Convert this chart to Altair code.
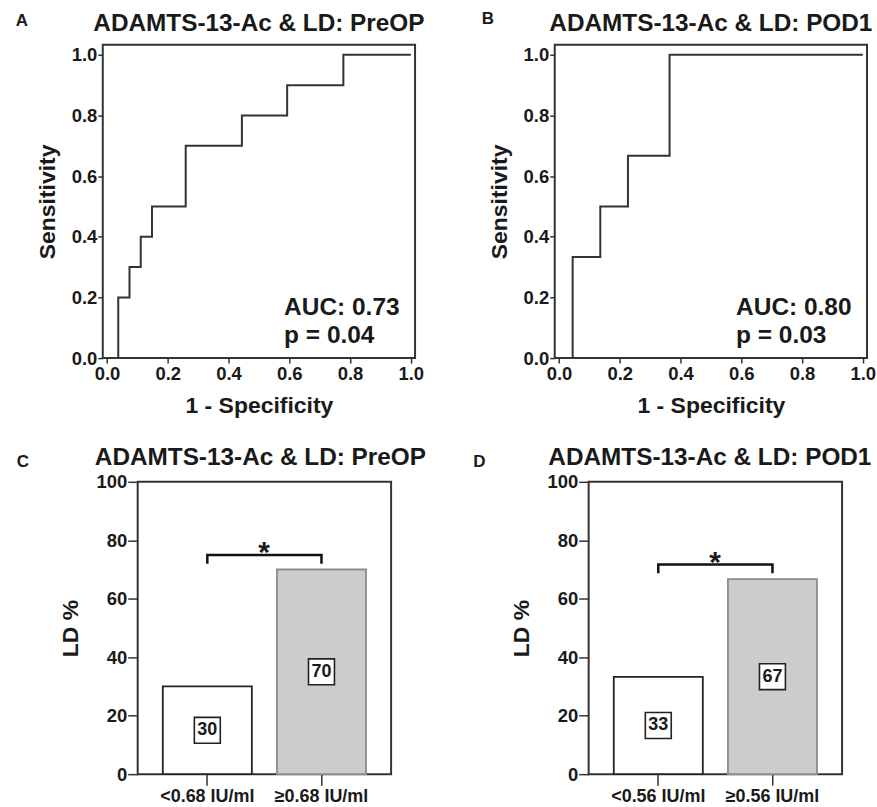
import altair as alt
import pandas as pd

# ---------------- data ----------------
roc_pre_fpr = [0.0, 0.037, 0.074, 0.111, 0.148, 0.259, 0.444, 0.593, 0.778, 1.0]
roc_pre_tpr = [0.0, 0.2, 0.3, 0.4, 0.5, 0.7, 0.8, 0.9, 1.0, 1.0]
roc_pod1_fpr = [0.0, 0.045, 0.136, 0.227, 0.364, 1.0]
roc_pod1_tpr = [0.0, 0.333, 0.5, 0.667, 1.0, 1.0]
auc_values = [0.73, 0.80]
p_values = [0.04, 0.03]

groups_pre = ["<0.68 IU/ml", "\u22650.68 IU/ml"]
ld_pre = [30.0, 70.0]
groups_pod1 = ["<0.56 IU/ml", "\u22650.56 IU/ml"]
ld_pod1 = [33.3, 66.7]

titles = ["ADAMTS-13-Ac & LD: PreOP", "ADAMTS-13-Ac & LD: POD1",
          "ADAMTS-13-Ac & LD: PreOP", "ADAMTS-13-Ac & LD: POD1"]
letters = ["A", "B", "C", "D"]
roc_ticks = [0.0, 0.2, 0.4, 0.6, 0.8, 1.0]
bar_ticks = [0, 20, 40, 60, 80, 100]

FONT = "Liberation Sans"
INK = "#1a1a1a"
ONE = pd.DataFrame({"k": [0]})


def title_mark(text, tx, ty):
    return alt.Chart(ONE).mark_text(text=text, fontSize=24.4, font=FONT, fontWeight="bold",
                                    color=INK, align="center", baseline="alphabetic").encode(
        x=alt.value(tx), y=alt.value(ty))


def letter_mark(letter, dx, dy):
    return alt.Chart(ONE).mark_text(text=letter, fontSize=17, font=FONT, fontWeight="bold",
                                    color=INK, align="center", baseline="middle").encode(
        x=alt.value(dx), y=alt.value(dy))


def roc_panel(fpr, tpr, title, letter, auc_v, p_v, ldx, ldy):
    df = pd.DataFrame({"fpr": fpr, "tpr": tpr})
    xax = alt.Axis(values=roc_ticks, format=".1f", tickSize=5, labelPadding=1,
                   title="1 - Specificity", titlePadding=12)
    yax = alt.Axis(values=roc_ticks, format=".1f", tickSize=5, labelPadding=1,
                   title="Sensitivity", titlePadding=12)
    xs = alt.Scale(domain=[-0.014, 1.014], nice=False, zero=False)
    ys = alt.Scale(domain=[0, 1.033], nice=False)
    line = alt.Chart(df).mark_line(interpolate="step-after", color="#333333",
                                   strokeWidth=2).encode(
        x=alt.X("fpr:Q", scale=xs, axis=xax),
        y=alt.Y("tpr:Q", scale=ys, axis=yax))
    annot = alt.Chart(ONE).mark_text(
        text=[f"AUC: {auc_v:.2f}", f"p = {p_v:.2f}"], lineHeight=28,
        align="left", baseline="alphabetic", fontSize=24.5, font=FONT,
        fontWeight="bold", color=INK).encode(x=alt.datum(0.583), y=alt.datum(0.142))
    return alt.layer(line, annot, title_mark(title, 156.5, -14.3),
                     letter_mark(letter, ldx, ldy)).properties(width=313, height=314)


def bar_panel(groups, vals, title, letter, tx, ldx, ldy):
    df = pd.DataFrame({"grp": groups, "ld": vals})
    xax = alt.Axis(title=None, labelAngle=0, tickSize=11, labelPadding=2, labelFontSize=18)
    yax = alt.Axis(values=bar_ticks, title="LD %", tickSize=10, labelPadding=1,
                   titlePadding=13)
    xs = alt.Scale(domain=groups, paddingInner=0.22, paddingOuter=0.22)
    ys = alt.Scale(domain=[0, 100], nice=False)

    def X():
        return alt.X("grp:N", sort=groups, scale=xs, axis=xax)

    def Y(f):
        return alt.Y(f, scale=ys, axis=yax)

    bars = alt.Chart(df).mark_bar(strokeWidth=1.8).encode(
        x=X(), y=Y("ld:Q"),
        fill=alt.Fill("grp:N", scale=alt.Scale(domain=groups, range=["#ffffff", "#cccccc"]),
                      legend=None),
        stroke=alt.Stroke("grp:N", scale=alt.Scale(domain=groups, range=["#222222", "#8c8c8c"]),
                          legend=None))
    boxes = alt.Chart(df).transform_calculate(mid="datum.ld / 2").mark_point(
        shape="square", size=676, filled=True, fill="#ffffff", stroke="#222222",
        strokeWidth=1.6, opacity=1).encode(x=X(), y=Y("mid:Q"))
    labels = alt.Chart(df).transform_calculate(mid="datum.ld / 2").mark_text(
        fontSize=18, font=FONT, fontWeight="bold", color=INK, baseline="middle",
        align="center").encode(x=X(), y=Y("mid:Q"), text=alt.Text("ld:Q", format=".0f"))

    top = max(vals) + 5
    end = max(vals) + 2
    br = pd.DataFrame({"grp": [groups[0], groups[0], groups[1], groups[1]],
                       "lvl": [end, top, top, end], "o": [0, 1, 2, 3]})
    bracket = alt.Chart(br).mark_line(color="#111111", strokeWidth=2.5).encode(
        x=X(), y=Y("lvl:Q"), order="o:Q")
    star = alt.Chart(br.iloc[[1]]).mark_text(
        text="*", fontSize=30, font=FONT, fontWeight="bold", color=INK,
        align="center", baseline="alphabetic", dx=57, dy=7).encode(x=X(), y=Y("lvl:Q"))
    return alt.layer(bars, boxes, labels, bracket, star, title_mark(title, tx, -16.7),
                     letter_mark(letter, ldx, ldy)).properties(width=254, height=293)


pa = roc_panel(roc_pre_fpr, roc_pre_tpr, titles[0], letters[0], auc_values[0], p_values[0], -81, -23.5)
pb = roc_panel(roc_pod1_fpr, roc_pod1_tpr, titles[1], letters[1], auc_values[1], p_values[1], -67, -25.5)
pc = bar_panel(groups_pre, ld_pre, titles[2], letters[2], 123, -115, -20.3)
pd_ = bar_panel(groups_pod1, ld_pod1, titles[3], letters[3], 121.5, -109.5, -20.2)

# invisible spacer that indents the lower row
spacer = alt.Chart(ONE).mark_point(opacity=0, size=1).encode(
    x=alt.X("k:Q", axis=None), y=alt.Y("k:Q", axis=None)
).properties(width=35, height=293, view=alt.ViewBackground(stroke="transparent"))

top_row = alt.hconcat(pa, pb, spacing=140, bounds="flush")
bottom_row = alt.hconcat(
    spacer, alt.hconcat(pc, pd_, spacing=198, bounds="flush"), spacing=0, bounds="flush")

chart = alt.vconcat(top_row, bottom_row, spacing=25).properties(
    padding={"left": 14, "top": 8, "right": 0, "bottom": 0}
).configure_view(stroke="#333333", strokeWidth=2).configure_axis(
    labelFont=FONT, labelFontSize=18.5, labelFontWeight="bold", labelColor=INK,
    titleFont=FONT, titleFontSize=23, titleFontWeight="bold", titleColor=INK,
    tickColor="#333333", tickWidth=1.5, grid=False, domain=False
)

chart.save("out.html", embed_options={"renderer": "svg", "actions": False})
